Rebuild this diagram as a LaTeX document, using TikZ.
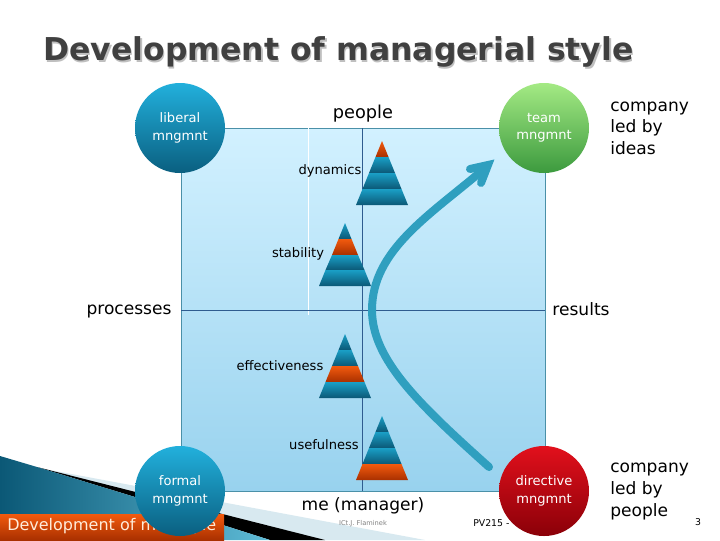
\documentclass[tikz,border=0pt]{standalone}
\usepackage{fontspec}
\setmainfont{DejaVu Sans}
\usepackage{xcolor}
\definecolor{titlegrey}{HTML}{404040}
\definecolor{edgeblue}{HTML}{4A90A8}
\definecolor{axisblue}{HTML}{2F5C8F}
\definecolor{arrowblue}{HTML}{2F9FBF}
\definecolor{tealtop}{HTML}{1A9FC6}
\definecolor{tealbot}{HTML}{0B5876}
\definecolor{orangetop}{HTML}{F25A0E}
\definecolor{orangebot}{HTML}{A93000}
\definecolor{squaretop}{HTML}{D2F1FF}
\definecolor{squarebot}{HTML}{98D2EE}
\definecolor{bandlight}{HTML}{D8E9F0}
\definecolor{circletop}{HTML}{22B0DC}
\definecolor{circlebot}{HTML}{0A5F80}
\definecolor{greentop}{HTML}{A4EA84}
\definecolor{greenbot}{HTML}{3C9A3E}
\definecolor{redtop}{HTML}{E2101C}
\definecolor{redbot}{HTML}{8A0008}
\tikzset{
  biglabel/.style={inner sep=0.75pt,font=\fontsize{12.8}{16.2}\selectfont,align=left},
  smalllabel/.style={inner sep=0.75pt,font=\fontsize{9.8}{12}\selectfont},
  circlenode/.style={circle,minimum size=67.5pt,inner sep=0pt,align=center,text=white,font=\fontsize{9.8}{13}\selectfont},
  bluecircle/.style={circlenode,top color=circletop,bottom color=circlebot},
  greencircle/.style={circlenode,top color=greentop,bottom color=greenbot},
  redcircle/.style={circlenode,top color=redtop,bottom color=redbot},
  teallayer/.style={top color=tealtop,bottom color=tealbot},
  orangelayer/.style={top color=orangetop,bottom color=orangebot}
}
\begin{document}
\begin{tikzpicture}[x=0.75pt,y=0.75pt,yscale=-1,xscale=1]

\useasboundingbox (0,0) rectangle (720,540);

\fill [white] (0,0) rectangle (720,540);

\fill [bandlight] (50,470) -- (425,540) -- (300,540) -- cycle;

\fill [black] (37,467) -- (325,540) -- (270,540) -- (135,497) -- cycle;

\path [left color=tealbot,right color=tealtop!70!white] (0,456) -- (37,467) -- (135,497) -- (270,540) -- (0,540) -- cycle;

\path [top color=orangetop,bottom color=orangebot] (0,514) rectangle (224,540);

\path [draw=edgeblue,top color=squaretop,bottom color=squarebot] (181,128) rectangle (545,491);

\coordinate (whitetop) at (308,128);
\coordinate (whitebot) at (308,315);
\coordinate (axistop) at (362.5,128);
\coordinate (axisbot) at (362.5,491);
\coordinate (axisleft) at (181,310);
\coordinate (axisright) at (545,310);

\draw [white] (whitetop) -- (whitebot);

\draw [axisblue] (axistop) -- (axisbot);

\draw [axisblue] (axisleft) -- (axisright);

\path [orangelayer] (382,141) -- (388.5,157) -- (375.5,157) -- cycle;
\path [teallayer] (375.5,157) -- (388.5,157) -- (395,173) -- (369,173) -- cycle;
\path [teallayer] (369,173) -- (395,173) -- (401.5,189) -- (362.5,189) -- cycle;
\path [teallayer] (362.5,189) -- (401.5,189) -- (408,205) -- (356,205) -- cycle;

\path [teallayer] (345,223) -- (351.5,239) -- (338.5,239) -- cycle;
\path [orangelayer] (338.5,239) -- (351.5,239) -- (358,255) -- (332,255) -- cycle;
\path [teallayer] (332,255) -- (358,255) -- (364.5,270) -- (325.5,270) -- cycle;
\path [teallayer] (325.5,270) -- (364.5,270) -- (371,286) -- (319,286) -- cycle;

\path [teallayer] (345,334) -- (351.5,350) -- (338.5,350) -- cycle;
\path [teallayer] (338.5,350) -- (351.5,350) -- (358,366) -- (332,366) -- cycle;
\path [orangelayer] (332,366) -- (358,366) -- (364.5,382) -- (325.5,382) -- cycle;
\path [teallayer] (325.5,382) -- (364.5,382) -- (371,398) -- (319,398) -- cycle;

\path [teallayer] (382,416) -- (388.5,432) -- (375.5,432) -- cycle;
\path [teallayer] (375.5,432) -- (388.5,432) -- (395,448) -- (369,448) -- cycle;
\path [teallayer] (369,448) -- (395,448) -- (401.5,464) -- (362.5,464) -- cycle;
\path [orangelayer] (362.5,464) -- (401.5,464) -- (408,480) -- (356,480) -- cycle;

\coordinate (arrowstart) at (489,467);
\coordinate (arrowtip) at (488,165);
\coordinate (barbleft) at (470,169);
\coordinate (barbright) at (481,183);

\draw [arrowblue,line width=6pt,line cap=round] (arrowstart) .. controls (420,405) and (372,360) .. (372,310) .. controls (372,250) and (430,215) .. (484,169);

\draw [arrowblue,line width=6pt,line cap=round,line join=miter] (barbleft) -- (arrowtip) -- (barbright);

\node [font=\bfseries\fontsize{23.6}{28}\selectfont,text=black!25,inner sep=0pt] (titleshadow) at (340,54) {Development of managerial style};

\node [font=\bfseries\fontsize{23.6}{28}\selectfont,text=titlegrey,inner sep=0pt] (titletext) at (338.5,52) {Development of managerial style};

\node [font=\fontsize{12}{14}\selectfont,text=orange!15!white,inner sep=0pt,anchor=west] (footertext) at (7,526.5) {Development of ma. style};

\node [font=\fontsize{5}{6}\selectfont,text=black!50,inner sep=0pt] (authortext) at (363,524) {ICt.J. Flaminek};

\node [font=\fontsize{7}{9}\selectfont,inner sep=0pt,anchor=west] (coursetext) at (473,523) {PV215 -};

\node [font=\fontsize{7}{9}\selectfont,inner sep=0pt] (pagetext) at (698,522) {3};

\node [bluecircle] (liberal) at (180,128) {liberal\\mngmnt};

\node [greencircle] (team) at (544,128) {team\\mngmnt};

\node [bluecircle] (formal) at (180,491) {formal\\mngmnt};

\node [redcircle] (directive) at (544,491) {directive\\mngmnt};

\node [biglabel,font=\fontsize{13.3}{16}\selectfont] (people) at (363,113.5) {people};

\node [biglabel] (manager) at (363,506) {me (manager)};

\node [biglabel] (processes) at (129,311) {processes};

\node [biglabel] (results) at (581,309.5) {results};

\node [biglabel,anchor=west] (ideas) at (609,128) {company\\led by\\ideas};

\node [biglabel,anchor=west] (staff) at (609,491.5) {company\\led by\\people};

\node [smalllabel] (dynamics) at (330,171) {dynamics};

\node [smalllabel] (stability) at (298,254) {stability};

\node [smalllabel] (effectiveness) at (280,365.5) {effectiveness};

\node [smalllabel] (usefulness) at (324,444.5) {usefulness};

\end{tikzpicture}
\end{document}
